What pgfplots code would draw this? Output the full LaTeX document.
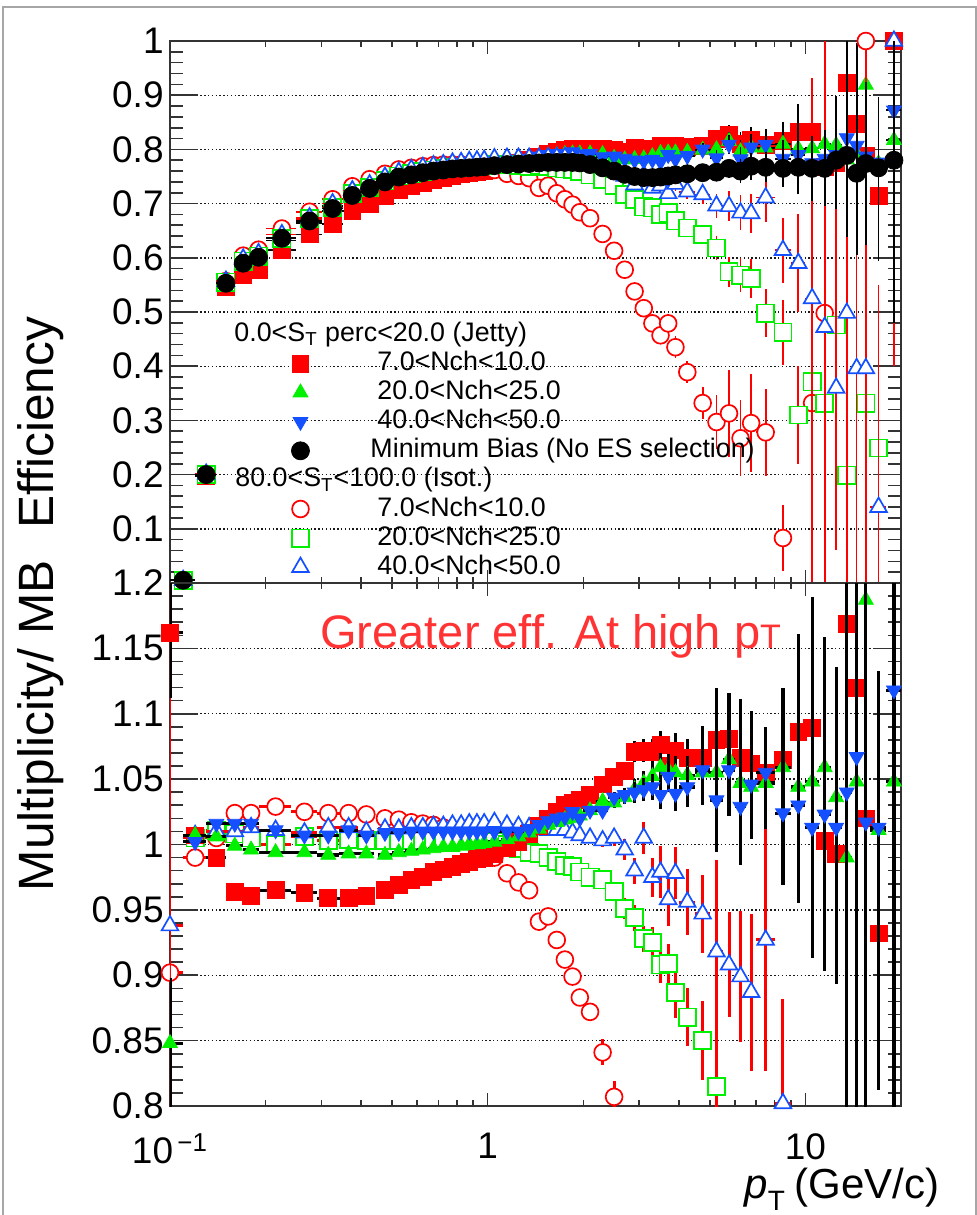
\documentclass[border=0pt]{standalone}
\usepackage{fontspec}
\setmainfont{Liberation Sans}
\usepackage{pgfplots}
\usepackage{pgfplotstable}
\pgfplotsset{compat=1.18}
\definecolor{rred}{RGB}{255,0,0}
\definecolor{rgreen}{RGB}{0,240,0}
\definecolor{rblue}{RGB}{20,80,255}
\definecolor{txtred}{RGB}{255,51,51}

% efficiency (top panel)
\pgfplotstableread{
x ex rs rse gt gte bt bte mb mbe ro roe gs gse bo boe
0.11 0.01 0.005 0.002 0.005 0.002 0.005 0.002 0.005 0.002 0.005 0.002 0.005 0.002 0.005 0.002
0.13 0.01 0.198 0.003 0.200 0.003 0.202 0.003 0.200 0.003 0.201 0.003 0.200 0.003 0.201 0.003
0.15 0.01 0.547 0.003 0.554 0.003 0.558 0.003 0.553 0.003 0.557 0.003 0.555 0.003 0.557 0.003
0.17 0.01 0.569 0.003 0.592 0.003 0.598 0.003 0.590 0.003 0.604 0.003 0.594 0.003 0.598 0.003
0.19 0.01 0.578 0.003 0.599 0.003 0.607 0.003 0.601 0.003 0.615 0.003 0.603 0.003 0.608 0.003
0.225 0.025 0.614 0.002 0.632 0.002 0.643 0.002 0.636 0.002 0.654 0.002 0.636 0.002 0.643 0.002
0.275 0.025 0.643 0.002 0.664 0.002 0.673 0.002 0.668 0.002 0.685 0.002 0.672 0.002 0.674 0.002
0.325 0.025 0.663 0.002 0.686 0.002 0.696 0.002 0.691 0.002 0.708 0.002 0.693 0.002 0.700 0.002
0.375 0.025 0.686 0.002 0.710 0.002 0.723 0.002 0.715 0.002 0.732 0.002 0.718 0.002 0.724 0.002
0.425 0.025 0.700 0.002 0.723 0.002 0.733 0.002 0.728 0.002 0.745 0.002 0.730 0.002 0.735 0.002
0.475 0.025 0.714 0.002 0.734 0.002 0.747 0.002 0.740 0.002 0.755 0.002 0.742 0.002 0.749 0.002
0.525 0.025 0.726 0.002 0.745 0.002 0.756 0.002 0.749 0.002 0.763 0.002 0.751 0.002 0.758 0.002
0.575 0.025 0.733 0.002 0.749 0.002 0.761 0.002 0.753 0.002 0.766 0.002 0.755 0.002 0.763 0.002
0.625 0.025 0.738 0.002 0.754 0.002 0.765 0.002 0.757 0.002 0.769 0.002 0.759 0.002 0.767 0.002
0.675 0.025 0.744 0.002 0.758 0.002 0.768 0.002 0.760 0.002 0.771 0.002 0.762 0.002 0.770 0.002
0.725 0.025 0.747 0.002 0.760 0.002 0.770 0.002 0.762 0.002 0.772 0.002 0.764 0.002 0.772 0.002
0.775 0.025 0.751 0.002 0.762 0.002 0.772 0.002 0.764 0.002 0.772 0.002 0.766 0.002 0.775 0.002
0.825 0.025 0.754 0.002 0.764 0.002 0.773 0.002 0.765 0.002 0.772 0.002 0.767 0.002 0.776 0.002
0.875 0.025 0.756 0.002 0.766 0.002 0.774 0.002 0.766 0.002 0.771 0.002 0.768 0.002 0.778 0.002
0.925 0.025 0.759 0.002 0.767 0.002 0.775 0.002 0.767 0.002 0.771 0.002 0.769 0.002 0.779 0.002
0.975 0.025 0.760 0.002 0.769 0.002 0.776 0.002 0.768 0.002 0.770 0.002 0.770 0.002 0.780 0.002
1.05 0.05 0.765 0.002 0.772 0.002 0.778 0.002 0.770 0.002 0.762 0.002 0.772 0.002 0.783 0.002
1.15 0.05 0.770 0.002 0.775 0.002 0.780 0.002 0.772 0.002 0.755 0.002 0.772 0.002 0.784 0.002
1.25 0.05 0.775 0.002 0.778 0.002 0.781 0.002 0.773 0.002 0.751 0.002 0.771 0.002 0.784 0.002
1.35 0.05 0.780 0.002 0.781 0.002 0.783 0.002 0.774 0.002 0.747 0.002 0.769 0.002 0.784 0.002
1.45 0.05 0.786 0.002 0.784 0.002 0.787 0.002 0.775 0.002 0.729 0.002 0.770 0.002 0.784 0.002
1.55 0.05 0.792 0.002 0.788 0.002 0.790 0.002 0.776 0.002 0.733 0.002 0.768 0.002 0.785 0.002
1.65 0.05 0.795 0.002 0.789 0.002 0.792 0.002 0.776 0.002 0.719 0.002 0.766 0.002 0.785 0.002
1.75 0.05 0.799 0.002 0.791 0.002 0.792 0.002 0.776 0.002 0.708 0.003 0.764 0.002 0.785 0.002
1.85 0.05 0.801 0.002 0.792 0.002 0.795 0.002 0.776 0.002 0.698 0.003 0.763 0.002 0.783 0.002
1.95 0.05 0.801 0.002 0.792 0.002 0.791 0.002 0.775 0.002 0.684 0.003 0.759 0.002 0.780 0.002
2.1 0.1 0.801 0.002 0.792 0.002 0.792 0.002 0.772 0.002 0.673 0.004 0.753 0.003 0.776 0.003
2.3 0.1 0.801 0.003 0.791 0.003 0.786 0.003 0.766 0.003 0.644 0.006 0.745 0.004 0.768 0.004
2.5 0.1 0.800 0.003 0.784 0.003 0.787 0.003 0.760 0.003 0.613 0.008 0.733 0.005 0.764 0.005
2.7 0.1 0.796 0.004 0.781 0.004 0.783 0.004 0.754 0.004 0.578 0.010 0.717 0.006 0.751 0.006
2.9 0.1 0.803 0.004 0.782 0.004 0.780 0.004 0.750 0.004 0.538 0.012 0.708 0.007 0.735 0.007
3.1 0.1 0.802 0.005 0.783 0.005 0.779 0.005 0.748 0.005 0.507 0.014 0.694 0.008 0.752 0.008
3.3 0.1 0.801 0.005 0.787 0.005 0.781 0.005 0.748 0.005 0.479 0.015 0.692 0.009 0.729 0.009
3.5 0.1 0.806 0.006 0.793 0.006 0.777 0.006 0.749 0.006 0.457 0.016 0.680 0.010 0.733 0.010
3.7 0.1 0.796 0.006 0.794 0.006 0.790 0.006 0.751 0.006 0.479 0.018 0.683 0.011 0.719 0.011
3.9 0.1 0.807 0.007 0.794 0.007 0.782 0.007 0.753 0.007 0.435 0.020 0.668 0.012 0.736 0.012
4.25 0.25 0.805 0.008 0.795 0.008 0.788 0.008 0.755 0.008 0.389 0.020 0.655 0.014 0.722 0.014
4.75 0.25 0.807 0.012 0.799 0.012 0.800 0.012 0.757 0.012 0.332 0.030 0.643 0.018 0.717 0.018
5.25 0.25 0.819 0.015 0.800 0.015 0.784 0.015 0.758 0.015 0.297 0.050 0.618 0.022 0.696 0.022
5.75 0.25 0.827 0.018 0.815 0.018 0.809 0.018 0.765 0.018 0.313 0.080 0.574 0.028 0.695 0.028
6.25 0.25 0.810 0.022 0.796 0.022 0.782 0.022 0.760 0.022 0.267 0.070 0.568 0.032 0.683 0.032
6.75 0.25 0.817 0.025 0.803 0.025 0.804 0.025 0.769 0.025 0.295 0.090 0.562 0.036 0.682 0.036
7.5 0.5 0.809 0.028 0.803 0.028 0.809 0.028 0.767 0.028 0.278 0.080 0.498 0.045 0.711 0.045
8.5 0.5 0.815 0.035 0.810 0.035 0.783 0.035 0.765 0.035 0.083 0.060 0.463 0.060 0.614 0.060
9.5 0.5 0.833 0.050 0.801 0.050 0.790 0.050 0.767 0.050 nan 0 0.310 0.090 0.590 0.090
10.5 0.5 0.833 0.060 0.802 0.060 0.775 0.060 0.765 0.060 0.332 0.600 0.371 0.300 0.525 0.300
11.5 0.5 0.767 0.070 0.810 0.070 0.783 0.070 0.765 0.070 0.498 0.600 0.332 0.300 0.472 0.300
12.5 0.5 0.775 0.090 0.808 0.090 0.790 0.090 0.780 0.090 nan 0 0.476 0.300 0.360 0.300
13.5 0.5 0.922 0.150 0.781 0.150 0.821 0.150 0.789 0.150 nan 0 0.199 0.350 0.498 0.350
14.5 0.5 0.847 0.150 0.792 0.150 0.807 0.150 0.756 0.150 nan 0 nan 0 0.396 0.400
15.5 0.5 0.789 0.150 0.919 0.150 0.787 0.150 0.774 0.150 1.000 0.600 0.332 0.400 0.396 0.400
17 1 0.714 0.120 0.774 0.120 0.776 0.120 0.766 0.120 nan 0 0.249 0.300 0.140 0.400
19 1 1.000 0.300 0.817 0.300 0.872 0.300 0.780 0.300 nan 0 nan 0 1.000 0.600
}\toptab

% ratio to MB (bottom panel)
\pgfplotstableread{
x ex rs rse gt gte bt bte ro roe gs gse bo boe
0.10 0.01 1.162 0.05 0.848 0.05 nan 0 0.902 0.35 nan 0 0.938 0.05
0.12 0.01 1.007 0.003 1.007 0.003 1.002 0.003 0.990 0.003 1.005 0.003 1.007 0.003
0.14 0.01 0.990 0.003 1.006 0.003 1.016 0.003 1.005 0.003 1.011 0.003 1.010 0.003
0.16 0.01 0.964 0.003 0.999 0.003 1.016 0.003 1.024 0.003 1.008 0.003 1.010 0.003
0.18 0.01 0.961 0.003 0.996 0.003 1.016 0.003 1.024 0.003 1.005 0.003 1.013 0.003
0.215 0.025 0.965 0.002 0.994 0.002 1.011 0.002 1.029 0.002 1.000 0.002 1.011 0.002
0.265 0.025 0.963 0.002 0.994 0.002 1.007 0.002 1.025 0.002 1.006 0.002 1.009 0.002
0.315 0.025 0.959 0.002 0.992 0.002 1.007 0.002 1.024 0.002 1.003 0.002 1.013 0.002
0.365 0.025 0.959 0.002 0.993 0.002 1.011 0.002 1.024 0.002 1.004 0.002 1.013 0.002
0.415 0.025 0.961 0.002 0.993 0.002 1.007 0.002 1.023 0.002 1.003 0.002 1.010 0.002
0.475 0.025 0.965 0.002 0.992 0.002 1.009 0.002 1.020 0.002 1.003 0.002 1.012 0.002
0.525 0.025 0.969 0.002 0.994 0.002 1.009 0.002 1.019 0.002 1.003 0.002 1.012 0.002
0.575 0.025 0.973 0.002 0.995 0.002 1.010 0.002 1.017 0.002 1.003 0.002 1.013 0.002
0.625 0.025 0.975 0.002 0.996 0.002 1.010 0.002 1.016 0.002 1.003 0.002 1.013 0.002
0.675 0.025 0.979 0.002 0.997 0.002 1.010 0.002 1.015 0.002 1.003 0.002 1.014 0.002
0.725 0.025 0.981 0.002 0.998 0.002 1.010 0.002 1.013 0.002 1.003 0.002 1.014 0.002
0.775 0.025 0.983 0.002 0.998 0.002 1.010 0.002 1.011 0.002 1.003 0.002 1.015 0.002
0.825 0.025 0.985 0.002 0.999 0.002 1.010 0.002 1.009 0.002 1.003 0.002 1.015 0.002
0.875 0.025 0.987 0.002 1.000 0.002 1.010 0.002 1.007 0.002 1.003 0.002 1.016 0.002
0.925 0.025 0.989 0.002 1.000 0.002 1.010 0.002 1.005 0.002 1.003 0.002 1.016 0.002
0.975 0.025 0.990 0.002 1.001 0.002 1.010 0.002 1.003 0.002 1.003 0.002 1.016 0.002
1.05 0.05 0.993 0.002 1.002 0.002 1.010 0.002 0.990 0.002 1.002 0.002 1.017 0.002
1.15 0.05 0.997 0.002 1.004 0.002 1.010 0.002 0.978 0.002 1.000 0.002 1.015 0.002
1.25 0.05 1.002 0.002 1.006 0.002 1.010 0.002 0.971 0.002 0.997 0.002 1.014 0.002
1.35 0.05 1.008 0.002 1.009 0.002 1.012 0.002 0.965 0.003 0.994 0.002 1.013 0.002
1.45 0.05 1.014 0.002 1.012 0.002 1.015 0.002 0.941 0.003 0.993 0.002 1.012 0.002
1.55 0.05 1.020 0.002 1.015 0.002 1.018 0.002 0.945 0.003 0.990 0.002 1.011 0.002
1.65 0.05 1.025 0.002 1.017 0.002 1.020 0.002 0.927 0.003 0.987 0.003 1.011 0.003
1.75 0.05 1.030 0.002 1.019 0.002 1.021 0.002 0.912 0.004 0.984 0.003 1.011 0.003
1.85 0.05 1.032 0.002 1.020 0.002 1.025 0.002 0.899 0.004 0.983 0.003 1.009 0.003
1.95 0.05 1.034 0.003 1.022 0.003 1.020 0.003 0.883 0.005 0.979 0.004 1.007 0.004
2.1 0.1 1.038 0.003 1.026 0.003 1.026 0.003 0.872 0.006 0.975 0.004 1.005 0.004
2.3 0.1 1.046 0.003 1.033 0.003 1.026 0.003 0.841 0.010 0.973 0.005 1.003 0.005
2.5 0.1 1.052 0.004 1.032 0.004 1.036 0.004 0.807 0.012 0.964 0.006 1.005 0.006
2.7 0.1 1.056 0.005 1.036 0.005 1.038 0.005 nan 0 0.951 0.008 0.996 0.008
2.9 0.1 1.071 0.008 1.042 0.008 1.040 0.008 nan 0 0.944 0.010 0.980 0.010
3.1 0.1 1.072 0.009 1.047 0.009 1.042 0.009 nan 0 0.928 0.010 1.005 0.012
3.3 0.1 1.071 0.010 1.052 0.010 1.044 0.010 nan 0 0.925 0.012 0.975 0.015
3.5 0.1 1.076 0.011 1.059 0.011 1.038 0.011 nan 0 0.908 0.014 0.979 0.020
3.7 0.1 1.060 0.012 1.057 0.012 1.052 0.012 nan 0 0.909 0.015 0.958 0.020
3.9 0.1 1.072 0.013 1.055 0.013 1.039 0.013 nan 0 0.887 0.020 0.978 0.020
4.25 0.25 1.066 0.015 1.053 0.015 1.044 0.015 nan 0 0.868 0.022 0.956 0.025
4.75 0.25 1.066 0.025 1.055 0.025 1.057 0.025 nan 0 0.850 0.030 0.947 0.030
5.25 0.25 1.080 0.040 1.055 0.040 1.034 0.040 nan 0 0.815 0.035 0.918 0.070
5.75 0.25 1.081 0.035 1.065 0.035 1.057 0.035 nan 0 nan 0 0.908 0.040
6.25 0.25 1.066 0.045 1.047 0.045 1.029 0.045 nan 0 nan 0 0.899 0.050
6.75 0.25 1.062 0.040 1.044 0.040 1.046 0.040 nan 0 nan 0 0.887 0.060
7.5 0.5 1.055 0.035 1.047 0.035 1.055 0.035 nan 0 nan 0 0.927 0.100
8.5 0.5 1.065 0.055 1.059 0.055 1.024 0.055 nan 0 nan 0 0.802 0.080
9.5 0.5 1.086 0.075 1.044 0.075 1.030 0.075 nan 0 nan 0 nan 0
10.5 0.5 1.089 0.100 1.048 0.100 1.013 0.100 nan 0 nan 0 nan 0
11.5 0.5 1.003 0.100 1.059 0.100 1.023 0.100 nan 0 nan 0 nan 0
12.5 0.5 0.993 0.100 1.036 0.100 1.013 0.100 nan 0 nan 0 nan 0
13.5 0.5 1.169 0.250 0.990 0.250 1.040 0.250 nan 0 nan 0 nan 0
14.5 0.5 1.120 0.250 1.048 0.250 1.067 0.250 nan 0 nan 0 nan 0
15.5 0.5 1.020 0.250 1.187 0.250 1.017 0.250 nan 0 nan 0 nan 0
17 1 0.932 0.120 1.011 0.120 1.013 0.120 nan 0 nan 0 nan 0
19 1 nan 0 1.048 0.300 1.118 0.300 nan 0 nan 0 nan 0
}\bottab

\pgfplotsset{
  rsq/.style={only marks, mark=square*, mark size=4.2pt, color=rred},
  gtri/.style={only marks, mark=triangle*, mark size=4.3pt, color=rgreen},
  btri/.style={only marks, mark=triangle*, mark size=4.3pt, color=rblue, mark options={rotate=180}},
  mbc/.style={only marks, mark=*, mark size=4.5pt, color=black},
  rcir/.style={only marks, mark=*, mark size=4.2pt, color=rred, mark options={fill=white, line width=0.85pt}},
  gsq/.style={only marks, mark=square*, mark size=4.3pt, color=rgreen, mark options={fill=white, line width=0.85pt}},
  btro/.style={only marks, mark=triangle*, mark size=4.8pt, color=rblue, mark options={fill=white, line width=0.85pt}},
}

\begin{document}
\begin{tikzpicture}
\useasboundingbox (0,0) rectangle (488.5pt,-607.5pt);
\draw[black!35, line width=0.7pt] (1.5pt,-607.5pt) -- (1.5pt,-3.5pt) -- (488pt,-3.5pt) -- (488pt,-607.5pt);

% ---------------- top panel -----------------
\begin{axis}[
  width=365.5pt, height=271pt, scale only axis,
  at={(85pt,-291.5pt)}, anchor=south west,
  xmode=log, xmin=0.1, xmax=20,
  xtick={0.1,1,10}, xticklabels={,,},
  minor xtick={0.2,0.3,0.4,0.5,0.6,0.7,0.8,0.9,2,3,4,5,6,7,8,9,20},
  ymin=0, ymax=1,
  ytick={0,0.1,0.2,0.3,0.4,0.5,0.6,0.7,0.8,0.9,1},
  yticklabels={,0.1,0.2,0.3,0.4,0.5,0.6,0.7,0.8,0.9,1},
  minor y tick num=4,
  tick align=inside,
  major tick length=14pt, minor tick length=6.5pt,
  xtick style={/pgfplots/major tick length=6.5pt, /pgfplots/minor tick length=3pt},
  tick style={black!80, line width=0.8pt},
  axis line style={black!80, line width=0.9pt},
  ymajorgrids, grid style={black!90, line width=0.7pt, dash pattern=on 0.7pt off 1.2pt},
  clip mode=individual,
  tick label style={font=\fontsize{18.5}{18.5}\selectfont},
  yticklabel style={inner xsep=3pt, inner ysep=0pt},
  legend style={draw=none, fill=none, inner sep=0pt,
    at={(0.1546,0.4834)}, anchor=north west,
    font=\fontsize{13.4}{13.4}\selectfont,
    nodes={inner sep=0pt, text height=10pt, text depth=3pt},
    column sep=34pt, row sep=1.55pt},
  legend cell align=left,
]
\addplot[rsq, forget plot, error bars/.cd, x dir=both, x explicit, y dir=both, y explicit, error mark=none, error bar style={black, line width=0.9pt}] table[x=x, y=rs, x error=ex, y error=rse]{\toptab};
\addplot[gtri, forget plot, error bars/.cd, x dir=both, x explicit, y dir=both, y explicit, error mark=none, error bar style={black, line width=0.9pt}] table[x=x, y=gt, x error=ex, y error=gte]{\toptab};
\addplot[btri, forget plot, error bars/.cd, x dir=both, x explicit, y dir=both, y explicit, error mark=none, error bar style={black, line width=0.9pt}] table[x=x, y=bt, x error=ex, y error=bte]{\toptab};
\addplot[rcir, forget plot, error bars/.cd, x dir=both, x explicit, y dir=both, y explicit, error mark=none, error bar style={rred, line width=0.85pt}] table[x=x, y=ro, x error=ex, y error=roe]{\toptab};
\addplot[gsq, forget plot, error bars/.cd, x dir=both, x explicit, y dir=both, y explicit, error mark=none, error bar style={rred, line width=0.85pt}] table[x=x, y=gs, x error=ex, y error=gse]{\toptab};
\addplot[btro, forget plot, error bars/.cd, x dir=both, x explicit, y dir=both, y explicit, error mark=none, error bar style={rred, line width=0.85pt}] table[x=x, y=bo, x error=ex, y error=boe]{\toptab};
\addplot[mbc, forget plot, error bars/.cd, x dir=both, x explicit, y dir=both, y explicit, error mark=none, error bar style={black, line width=0.9pt}] table[x=x, y=mb, x error=ex, y error=mbe]{\toptab};

\addlegendimage{empty legend}
\addlegendentry{\hspace*{-71.5pt}0.0<S\textsubscript{T} perc<20.0 (Jetty)}
\addlegendimage{rsq}
\addlegendentry{7.0<Nch<10.0}
\addlegendimage{gtri}
\addlegendentry{20.0<Nch<25.0}
\addlegendimage{btri}
\addlegendentry{40.0<Nch<50.0}
\addlegendimage{mbc}
\addlegendentry{\hspace*{-3.5pt}Minimum Bias (No ES selection)}
\addlegendimage{empty legend}
\addlegendentry{\hspace*{-71pt}80.0<S\textsubscript{T}<100.0 (Isot.)}
\addlegendimage{rcir}
\addlegendentry{7.0<Nch<10.0}
\addlegendimage{gsq}
\addlegendentry{20.0<Nch<25.0}
\addlegendimage{btro}
\addlegendentry{40.0<Nch<50.0}
\end{axis}

% ---------------- bottom panel -----------------
\begin{axis}[
  width=365.5pt, height=261.5pt, scale only axis,
  at={(85pt,-553pt)}, anchor=south west,
  xmode=log, xmin=0.1, xmax=20,
  xtick={0.1,1,10},
  xticklabels={10\textsuperscript{\,−1},1,10},
  minor xtick={0.2,0.3,0.4,0.5,0.6,0.7,0.8,0.9,2,3,4,5,6,7,8,9,20},
  ymin=0.8, ymax=1.2,
  ytick={0.8,0.85,0.9,0.95,1,1.05,1.1,1.15,1.2},
  yticklabels={0.8,0.85,0.9,0.95,1,1.05,1.1,1.15,1.2},
  minor y tick num=4,
  tick align=inside,
  major tick length=14pt, minor tick length=6.5pt,
  xtick style={/pgfplots/major tick length=6.5pt, /pgfplots/minor tick length=3pt},
  tick style={black!80, line width=0.8pt},
  axis line style={black!80, line width=0.9pt},
  ymajorgrids, grid style={black!90, line width=0.7pt, dash pattern=on 0.7pt off 1.2pt},
  clip mode=individual,
  tick label style={font=\fontsize{18.5}{18.5}\selectfont},
  yticklabel style={inner xsep=3pt, inner ysep=0pt},
  xticklabel style={inner sep=0pt, yshift=-13.5pt},
]
\addplot[rcir, error bars/.cd, x dir=both, x explicit, y dir=both, y explicit, error mark=none, error bar style={rred, line width=1.5pt}] table[x=x, y=ro, x error=ex, y error=roe]{\bottab};
\addplot[gsq, error bars/.cd, x dir=both, x explicit, y dir=both, y explicit, error mark=none, error bar style={rred, line width=1.5pt}] table[x=x, y=gs, x error=ex, y error=gse]{\bottab};
\addplot[btro, error bars/.cd, x dir=both, x explicit, y dir=both, y explicit, error mark=none, error bar style={rred, line width=1.5pt}] table[x=x, y=bo, x error=ex, y error=boe]{\bottab};
\addplot[rsq, error bars/.cd, x dir=both, x explicit, y dir=both, y explicit, error mark=none, error bar style={black, line width=1.6pt}] table[x=x, y=rs, x error=ex, y error=rse]{\bottab};
\addplot[gtri, error bars/.cd, x dir=both, x explicit, y dir=both, y explicit, error mark=none, error bar style={black, line width=1.6pt}] table[x=x, y=gt, x error=ex, y error=gte]{\bottab};
\addplot[btri, error bars/.cd, x dir=both, x explicit, y dir=both, y explicit, error mark=none, error bar style={black, line width=1.6pt}] table[x=x, y=bt, x error=ex, y error=bte]{\bottab};
\end{axis}

% texts
\node[rotate=90, anchor=base, inner sep=0pt] at (26.5pt,-302pt)
  {\fontsize{24.8}{24.8}\selectfont Multiplicity/ MB\hspace{16pt}Efficiency};
\node[anchor=base west, inner sep=0pt, text=txtred] at (160pt,-324pt)
  {\fontsize{23.5}{23.5}\selectfont Greater eff. At high p{\fontsize{17}{17}\selectfont T}};
\node[anchor=base east, inner sep=0pt] at (470pt,-599pt)
  {\fontsize{21}{21}\selectfont\textit{p}\raisebox{-6pt}{\fontsize{14}{14}\selectfont T}\hspace{5pt}(GeV/c)};
\end{tikzpicture}
\end{document}
